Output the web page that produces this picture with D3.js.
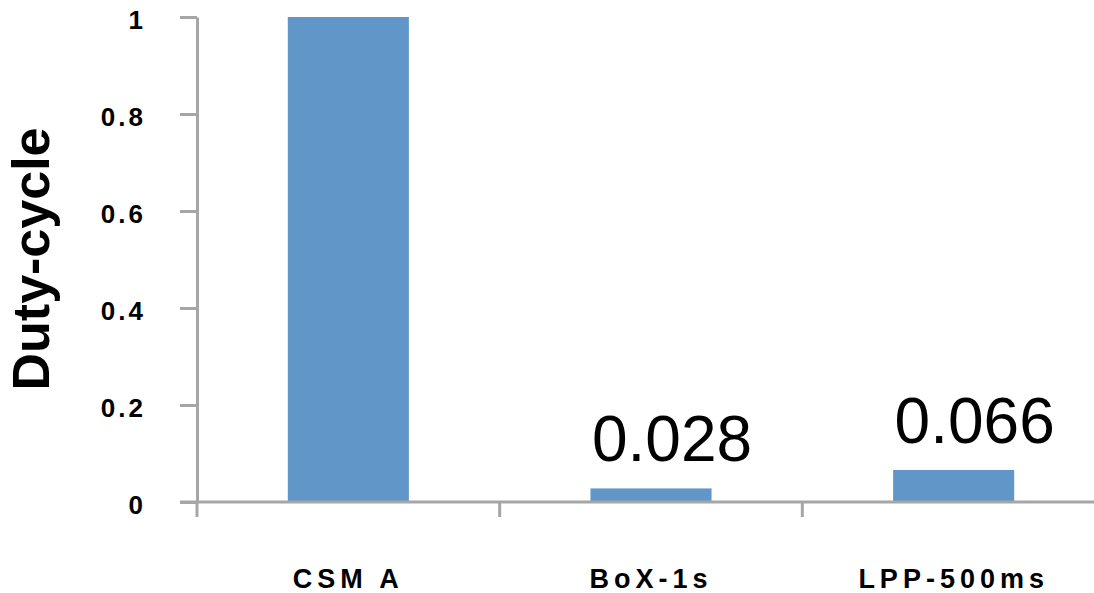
<!DOCTYPE html>
<html>
<head>
<meta charset="utf-8">
<script src="https://cdn.jsdelivr.net/npm/d3@7"></script>
<style>
  html, body { margin: 0; padding: 0; background: #ffffff; }
  svg { display: block; }
</style>
</head>
<body>
<svg id="chart" width="1094" height="593"></svg>
<script>
// Duty-cycle per protocol
const categories = ["CSM A", "BoX-1s", "LPP-500ms"];
const dutyCycle = [1, 0.028, 0.066];
const valueLabels = [null, "0.028", "0.066"];
const yTicks = [0, 0.2, 0.4, 0.6, 0.8, 1];
const yTickLabels = ["0", "0.2", "0.4", "0.6", "0.8", "1"];

const svg = d3.select("#chart");
const axisColor = "#a6a6a6";
const barColor = "#6096c8";
const font = "'Liberation Sans', Arial, Helvetica, sans-serif";

const x = d3.scaleBand()
  .domain(categories)
  .range([197, 1105])
  .padding(0);

const y = d3.scaleLinear()
  .domain([0, 1])
  .range([502, 17]);

// Bars
svg.append("g")
  .selectAll("rect")
  .data(categories)
  .join("rect")
  .attr("x", c => x(c) + x.bandwidth() * 0.3)
  .attr("width", x.bandwidth() * 0.4)
  .attr("y", (c, i) => y(dutyCycle[i]))
  .attr("height", (c, i) => y(0) - y(dutyCycle[i]))
  .attr("fill", barColor);

// Y axis
const yAxis = svg.append("g")
  .attr("transform", `translate(${x.range()[0]},0)`)
  .call(d3.axisLeft(y)
    .tickValues(yTicks)
    .tickFormat((d, i) => yTickLabels[i])
    .tickSize(17)
    .tickSizeOuter(0)
    .tickPadding(34));
yAxis.select(".domain").attr("stroke", axisColor).attr("stroke-width", 3);
yAxis.selectAll(".tick line").attr("stroke", axisColor).attr("stroke-width", 3);
yAxis.selectAll(".tick text")
  .attr("fill", "#000")
  .attr("dy", "0.38em")
  .attr("y", 2)
  .style("font-family", font)
  .style("font-weight", "bold")
  .style("font-size", "26px")
  .style("letter-spacing", "3px");

// X axis line with category separators
const xAxis = svg.append("g")
  .attr("transform", `translate(0,${y(0)})`);
xAxis.append("line")
  .attr("x1", 180).attr("x2", 1094)
  .attr("stroke", axisColor).attr("stroke-width", 3);
xAxis.selectAll("line.sep")
  .data(categories)
  .join("line")
  .attr("class", "sep")
  .attr("x1", c => x(c)).attr("x2", c => x(c))
  .attr("y1", 0).attr("y2", 15)
  .attr("stroke", axisColor).attr("stroke-width", 3);

// Category labels
svg.append("g")
  .selectAll("text")
  .data(categories)
  .join("text")
  .attr("x", c => x(c) + x.bandwidth() / 2)
  .attr("y", 588)
  .attr("text-anchor", "middle")
  .style("font-family", font)
  .style("font-weight", "bold")
  .style("font-size", "27px")
  .style("letter-spacing", "5px")
  .text(c => c);

// Value labels above the short bars
svg.append("g")
  .selectAll("text")
  .data(categories)
  .join("text")
  .filter((c, i) => valueLabels[i] !== null)
  .attr("x", c => x(c) + x.bandwidth() / 2 + 21)
  .attr("y", c => y(dutyCycle[categories.indexOf(c)]) - 27)
  .attr("text-anchor", "middle")
  .style("font-family", font)
  .style("font-size", "64px")
  .text(c => valueLabels[categories.indexOf(c)]);

// Y axis title
svg.append("text")
  .attr("transform", "translate(49,259) rotate(-90)")
  .attr("text-anchor", "middle")
  .style("font-family", font)
  .style("font-weight", "bold")
  .style("font-size", "52px")
  .text("Duty-cycle");
</script>
</body>
</html>
